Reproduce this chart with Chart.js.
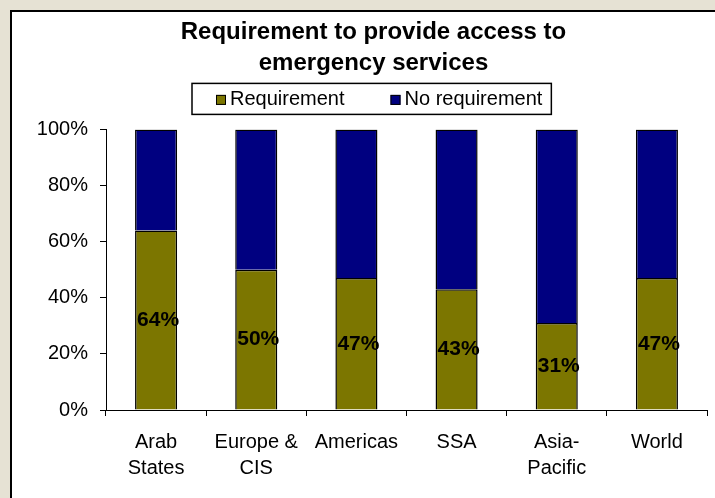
<!DOCTYPE html>
<html>
<head>
<meta charset="utf-8">
<script src="https://cdn.jsdelivr.net/npm/chart.js@4.4.1/dist/chart.umd.min.js"></script>
<style>
  html, body { margin: 0; padding: 0; width: 715px; height: 498px; overflow: hidden; background: #e6e2d4; }
  #frame { position: absolute; left: 10px; top: 10px; width: 703px; height: 486px; background: #fff; border-left: 2px solid #000; border-top: 2px solid #000; overflow: hidden; }
  #chart { position: absolute; left: 0; top: 0; }
</style>
</head>
<body>
<div id="frame"><canvas id="chart" width="723" height="486"></canvas></div>
<script>
const FONT = '"Liberation Sans", Arial, sans-serif';

const categories = [['Arab', 'States'], ['Europe &', 'CIS'], 'Americas', 'SSA', ['Asia-', 'Pacific'], 'World'];
const requirement = [64, 50, 47, 43, 31, 47];
const noRequirement = [36, 50, 53, 57, 69, 53];
const yTicks = [0, 20, 40, 60, 80, 100];

// Excel centres the title a bit right of the plot's middle
const titleShift = {
  id: 'titleShift',
  afterLayout(chart) {
    chart.titleBlock.left += 14;
    chart.titleBlock.right += 14;
  }
};

// percentage printed in the middle of the olive part
const valueLabels = {
  id: 'valueLabels',
  afterDatasetsDraw(chart) {
    const ctx = chart.ctx;
    const meta = chart.getDatasetMeta(0);
    ctx.save();
    ctx.font = 'bold 21px ' + FONT;
    ctx.fillStyle = '#000';
    ctx.textAlign = 'center';
    ctx.textBaseline = 'middle';
    meta.data.forEach(function (bar, i) {
      ctx.fillText(requirement[i] + '%', bar.x + 2, (bar.y + bar.base) / 2);
    });
    ctx.restore();
  }
};

// legend with a frame round it, like the Excel one
const boxedLegend = {
  id: 'boxedLegend',
  afterDraw(chart) {
    const ctx = chart.ctx;
    const ds = chart.data.datasets;
    ctx.save();
    ctx.font = '20px ' + FONT;
    const widths = ds.map(function (d) { return ctx.measureText(d.label).width; });
    const mark = 10, markGap = 4, itemGap = 46;
    let itemsW = itemGap * (ds.length - 1);
    widths.forEach(function (w) { itemsW += mark + markGap + w; });
    const boxW = itemsW + 33, boxH = 31;
    const top = chart.chartArea.top - 46;
    const left = Math.round(360 - boxW / 2);
    ctx.lineWidth = 1.5;
    ctx.strokeStyle = '#000';
    ctx.strokeRect(left, top, boxW, boxH);
    const cy = top + boxH / 2;
    let x = left + 24;
    ds.forEach(function (d, i) {
      ctx.fillStyle = d.backgroundColor;
      ctx.fillRect(x, cy - 4, mark, mark);
      ctx.lineWidth = 1;
      ctx.strokeRect(x + 0.5, cy - 3.5, mark - 1, mark - 1);
      x += mark + markGap;
      ctx.fillStyle = '#000';
      ctx.textBaseline = 'middle';
      ctx.fillText(d.label, x, cy + 1);
      x += widths[i] + itemGap;
    });
    ctx.restore();
  }
};

new Chart(document.getElementById('chart'), {
  type: 'bar',
  plugins: [titleShift, valueLabels, boxedLegend],
  data: {
    labels: categories,
    datasets: [
      {
        label: 'Requirement',
        data: requirement,
        backgroundColor: '#7c7600',
        borderColor: '#000',
        borderWidth: 1.5,
        barPercentage: 0.42,
        categoryPercentage: 1
      },
      {
        label: 'No requirement',
        data: noRequirement,
        backgroundColor: '#000080',
        borderColor: '#000',
        borderWidth: 1.5,
        barPercentage: 0.42,
        categoryPercentage: 1
      }
    ]
  },
  options: {
    responsive: false,
    animation: false,
    layout: { padding: { left: 0, right: 28, top: 0, bottom: 0 } },
    plugins: {
      legend: { display: false },
      tooltip: { enabled: false },
      title: {
        display: true,
        text: ['Requirement to provide access to', 'emergency services'],
        color: '#000',
        font: { family: FONT, size: 24, weight: 'bold', lineHeight: 1.3 },
        padding: { top: 5, bottom: 50 }
      }
    },
    scales: {
      x: {
        stacked: true,
        grid: { drawOnChartArea: false, drawTicks: true, tickLength: 6, color: '#000', offset: true },
        border: { color: '#000', width: 1 },
        ticks: {
          color: '#000',
          font: { family: FONT, size: 20, lineHeight: 1.3 },
          padding: 13,
          maxRotation: 0,
          autoSkip: false
        },
        afterFit: function (s) { s.height = 88; }
      },
      y: {
        stacked: true,
        min: 0,
        max: 100,
        grid: { drawOnChartArea: false, drawTicks: true, tickLength: 6, color: '#000' },
        border: { color: '#000', width: 1 },
        ticks: {
          color: '#000',
          padding: 12,
          font: { family: FONT, size: 20 },
          callback: function (v) { return v + '%'; }
        },
        afterBuildTicks: function (s) { s.ticks = yTicks.map(function (v) { return { value: v }; }); },
        afterFit: function (s) { s.width = 94; }
      }
    }
  }
});
</script>
</body>
</html>
